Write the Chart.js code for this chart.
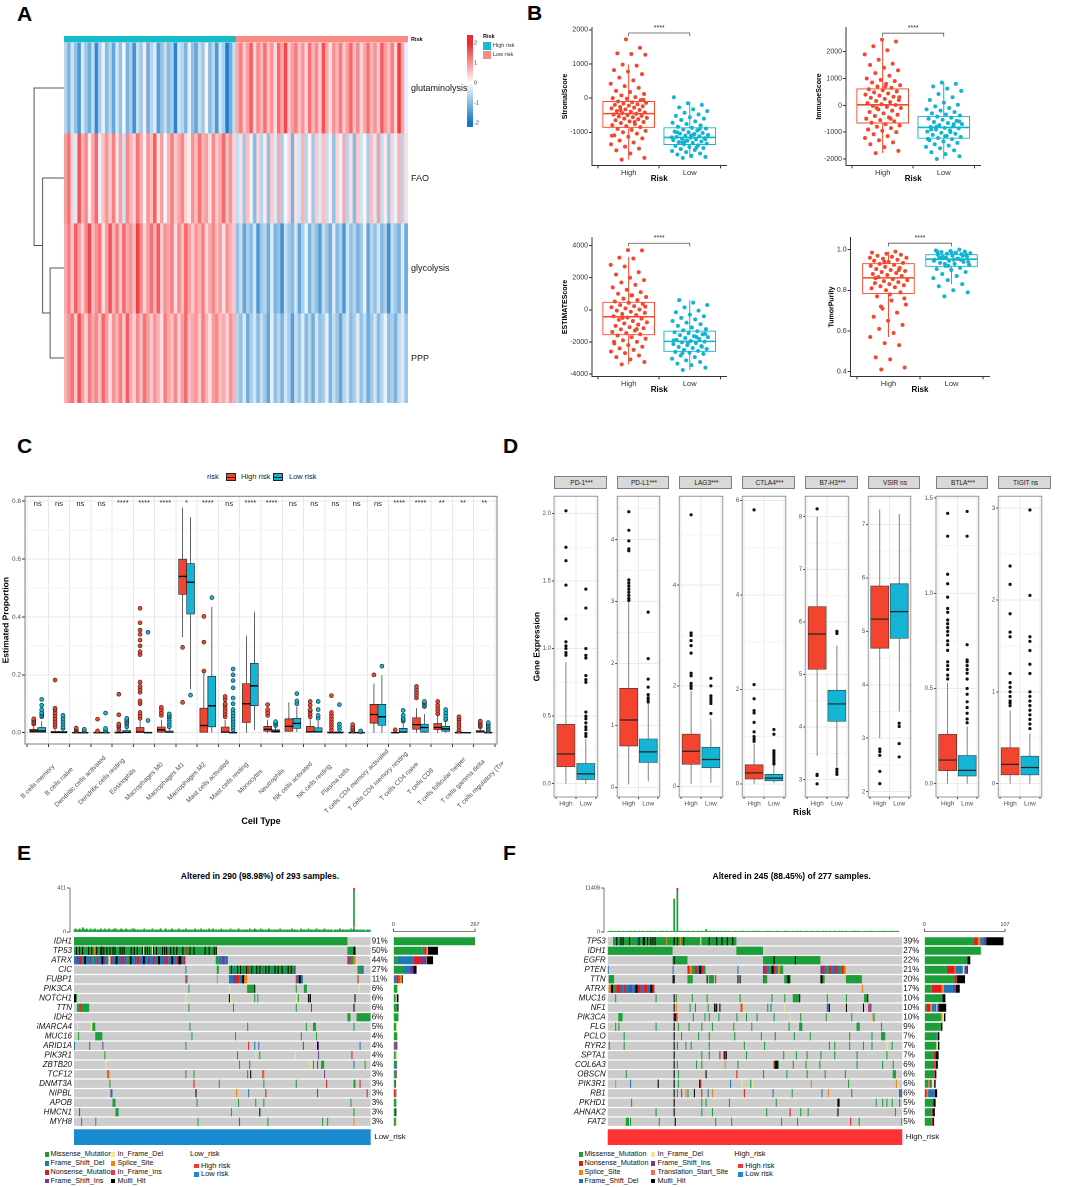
<!DOCTYPE html>
<html>
<head>
<meta charset="utf-8">
<script src="https://cdn.jsdelivr.net/npm/chart.js@4.4.1/dist/chart.umd.min.js"></script>
<style>
body { margin: 0; background: #fff; }
#fig { position: relative; width: 1065px; height: 1187px; overflow: hidden; font-family: "Liberation Sans", Arial, sans-serif; color: #000; }
.t { position: absolute; white-space: nowrap; line-height: 1; }
</style>
</head>
<body>
<div id="fig"></div>
<script>
// ---------------- panel A: heatmap ----------------
const heatRowNames = ['glutaminolysis', 'FAO', 'glycolysis', 'PPP'];
const glutHigh = [-0.6,-1.1,-0.4,-0.9,-1.5,-0.3,-0.8,-1.2,-0.5,-1.7,-0.7,-0.2,-1.0,-0.6,-1.3,-0.4,-0.9,-0.1,-1.1,-0.7,-1.6,-0.5,-0.8,0.2,-1.2,-0.6,-0.3,-1.4,-0.9,-0.5,-1.0,-0.7,-1.8,-0.4,-0.6,-1.1,-0.2,-0.9,-1.3,-0.5,-0.8,0.1,-1.0,-0.6,-1.5,-0.4,-0.7,-1.9,-1.2,-0.5];
const glutLow = [0.8,1.2,0.5,0.9,1.5,0.4,1.1,0.7,1.3,0.6,1.0,0.3,1.4,0.8,1.7,0.5,0.9,1.2,0.6,1.0,0.4,1.3,0.7,1.1,0.5,1.6,0.8,0.3,1.0,0.7,1.2,0.5,0.9,1.4,0.6,1.1,0.4,0.8,1.3,0.7,1.0,0.5,1.5,0.9,0.6,1.2,0.4,1.8,0.8,-0.2];
const faoHigh = [0.9,1.3,0.4,-0.3,1.6,0.7,1.1,0.2,0.8,1.4,-0.2,0.6,1.0,0.5,1.2,0.3,0.9,-0.4,1.1,0.7,0.4,1.3,0.8,0.1,1.0,0.6,1.5,0.3,0.9,-0.1,0.7,1.2,0.5,0.8,1.1,0.4,0.2,1.0,0.6,1.3,0.7,0.9,0.3,1.1,0.5,0.8,1.4,0.6,1.0,0.4];
const faoLow = [-0.5,0.3,-0.8,0.6,-0.2,-1.0,0.4,-0.6,0.2,-0.9,0.5,-0.3,0.8,-0.7,-0.1,0.4,-1.1,0.3,-0.4,0.7,-0.6,0.1,-0.8,0.5,-0.3,0.6,-0.5,0.2,-0.9,0.4,-0.2,0.8,-0.6,0.3,-1.0,0.5,-0.4,0.1,-0.7,0.6,-0.3,0.9,-0.5,0.2,-0.8,0.4,-0.2,0.7,-0.6,0.3];
const glycoHigh = [0.8,1.2,0.5,1.5,0.9,0.4,1.1,1.7,0.6,1.0,1.3,0.3,0.9,1.6,0.7,1.2,0.5,1.4,0.8,1.0,0.6,1.8,1.1,0.4,0.9,1.3,0.7,1.5,0.5,1.0,0.8,1.2,0.3,1.1,0.6,1.4,0.9,0.5,1.0,0.7,1.2,0.4,0.8,1.1,0.6,0.9,0.3,1.0,0.7,0.5];
const glycoLow = [-0.9,-0.5,-1.3,-0.7,-1.0,-0.4,-1.5,-0.8,-0.6,-1.2,-0.3,-1.1,-0.9,-1.6,-0.5,-0.8,-1.0,-0.4,-1.3,-0.7,-0.2,-1.1,-0.6,-0.9,-1.4,-0.5,-0.8,-1.2,-0.3,-1.0,-0.7,-1.5,-0.4,-0.9,-0.6,-1.1,-0.8,-0.2,-1.3,-0.6,-0.9,-0.4,-1.0,-0.7,-1.6,-0.5,-0.8,-1.1,-0.3,-1.2];
const pppHigh = [0.7,1.0,1.3,0.5,1.6,0.9,0.4,1.2,0.8,1.1,0.6,1.4,0.9,0.3,1.0,0.7,1.2,0.5,1.5,0.8,0.4,1.1,0.6,1.3,0.9,0.5,1.0,0.7,0.3,1.2,0.8,0.6,1.1,0.4,0.9,1.4,0.6,0.8,1.0,0.5,1.2,0.7,0.3,0.9,1.1,0.6,0.8,0.4,1.0,0.7];
const pppLow = [-0.6,-0.9,-0.3,-1.2,-0.7,-0.4,-1.0,-0.5,-0.8,-1.3,-0.2,-0.9,-0.6,-1.1,-0.4,-0.7,-1.4,-0.5,-0.8,-0.3,-1.0,-0.6,-1.2,-0.4,-0.9,-0.7,-0.2,-1.1,-0.5,-0.8,-1.3,-0.6,-0.4,-1.0,-0.7,-0.3,-0.9,-0.5,-1.2,-0.8,-0.4,-1.0,-0.6,-0.2,-0.9,-0.7,-1.1,-0.5,-0.3,-0.8];
const dendroMerges = [[2, 3, 1.3], [1, 4, 2.0], [0, 5, 2.8]]; // [nodeA, nodeB, height]
const heatTicks = [-2, -1, 0, 1, 2];
const heatRange = [-2.2, 2.4];

// ---------------- panel B: ESTIMATE ----------------
const riskLabels = ['High', 'Low'];
const stromalHigh = [-1800,-1750,-1620,-1530,-1480,-1420,-1350,-1300,-1240,-1180,-1130,-1090,-1040,-1000,-960,-930,-900,-850,-820,-790,-760,-730,-700,-680,-650,-620,-600,-580,-560,-540,-520,-500,-480,-460,-440,-420,-400,-380,-350,-330,-300,-280,-260,-240,-220,-200,-180,-160,-140,-120,-100,-60,-20,0,30,80,120,180,210,300,350,420,520,600,700,780,820,950,980,1270,1290,1310,1470,1720,-1100,-700,-350,-50];
const stromalLow = [-1750,-1720,-1690,-1650,-1620,-1580,-1550,-1520,-1490,-1460,-1430,-1400,-1380,-1350,-1330,-1310,-1290,-1270,-1250,-1230,-1210,-1190,-1170,-1160,-1140,-1120,-1100,-1080,-1060,-1040,-1020,-1000,-980,-950,-920,-890,-870,-840,-800,-760,-720,-680,-640,-600,-560,-520,-480,-430,-380,-330,-270,-200,-150,24,-1450,-1300,-1200,-1100,-1000,-900,-1250,-1150,-1050];
const immuneHigh = [-1780,-1700,-1560,-1450,-1380,-1300,-1220,-1150,-1080,-1000,-950,-900,-850,-800,-750,-700,-650,-600,-550,-500,-450,-400,-350,-300,-250,-200,-150,-100,-60,-20,10,40,80,120,160,200,240,280,320,360,400,440,480,520,560,600,650,700,750,800,850,900,950,1000,1100,1200,1300,1400,1500,1550,1700,1900,2050,2200,2380,2450,-900,-500,-100,300,700];
const immuneLow = [-2000,-1900,-1820,-1750,-1680,-1600,-1550,-1500,-1450,-1400,-1350,-1300,-1260,-1220,-1180,-1140,-1100,-1060,-1020,-980,-940,-900,-860,-840,-810,-780,-740,-700,-660,-620,-580,-540,-500,-460,-420,-380,-340,-300,-250,-200,-150,-100,-40,20,100,200,300,420,540,620,700,800,850,-1250,-1000,-800,-600,-1150,-900,-700];
const estimateHigh = [-3400,-3250,-3100,-2950,-2850,-2700,-2600,-2500,-2400,-2300,-2200,-2100,-2000,-1900,-1800,-1700,-1600,-1520,-1450,-1380,-1300,-1220,-1150,-1080,-1000,-920,-850,-780,-700,-620,-550,-480,-400,-330,-260,-190,-120,-50,20,90,160,230,300,370,430,520,600,700,800,900,1000,1100,1250,1400,1550,1700,1850,2000,2200,2350,2700,2800,3200,3250,3700,3720,-2000,-1200,-500,200,900];
const estimateLow = [-3750,-3600,-3450,-3350,-3250,-3150,-3050,-2950,-2850,-2750,-2680,-2620,-2560,-2500,-2440,-2380,-2320,-2260,-2200,-2140,-2080,-2020,-1980,-1940,-1880,-1820,-1760,-1700,-1640,-1580,-1520,-1460,-1400,-1340,-1280,-1200,-1100,-1000,-900,-800,-700,-600,-500,-400,-300,-150,-50,150,300,450,600,-2300,-2100,-1900,-1700,-2700,-1500];
const purityHigh = [0.41,0.42,0.46,0.47,0.53,0.54,0.57,0.59,0.61,0.63,0.65,0.67,0.69,0.71,0.73,0.75,0.77,0.79,0.80,0.81,0.815,0.82,0.825,0.83,0.835,0.84,0.845,0.85,0.855,0.865,0.87,0.875,0.88,0.885,0.89,0.895,0.90,0.905,0.91,0.915,0.92,0.925,0.93,0.935,0.94,0.945,0.95,0.955,0.96,0.965,0.97,0.975,0.98,0.985,0.99,0.72,0.76,0.78,0.86,0.9,0.94,0.96];
const purityLow = [0.77,0.79,0.80,0.82,0.83,0.85,0.86,0.87,0.88,0.89,0.90,0.905,0.91,0.92,0.925,0.93,0.935,0.94,0.945,0.95,0.955,0.96,0.965,0.97,0.975,0.978,0.98,0.982,0.985,0.988,0.99,0.993,0.996,1.0,0.93,0.94,0.95,0.96,0.97,0.92,0.945,0.955,0.965,0.975,0.985,0.99,0.95,0.96];
// box stats: [lower whisker, q1, median, q3, upper whisker] for High, Low
const stromalBox = [[-1800,-863,-455,-94,988], [-1750,-1365,-1153,-863,-110]];
const immuneBox = [[-1780,-667,20,617,2450], [-2000,-1234,-826,-408,850]];
const estimateBox = [[-3400,-1567,-433,483,3300], [-3750,-2600,-1967,-1317,600]];
const purityBox = [[0.57,0.783,0.861,0.932,0.99], [0.83,0.917,0.953,0.976,1.0]];
const stromalTicks = [-1000, 0, 1000, 2000];
const immuneTicks = [-2000, -1000, 0, 1000, 2000];
const estimateTicks = [-4000, -2000, 0, 2000, 4000];
const purityTicks = [0.4, 0.6, 0.8, 1.0];
// significance bracket: [bar level, tick end]
const stromalBracket = [1906, 1812];
const immuneBracket = [2687, 2560];
const estimateBracket = [4150, 3950];
const purityBracket = [1.0316, 1.016];

// ---------------- panel C: CIBERSORT ----------------
const cellTypes = ['B cells memory','B cells naive','Dendritic cells activated','Dendritic cells resting','Eosinophils','Macrophages M0','Macrophages M1','Macrophages M2','Mast cells activated','Mast cells resting','Monocytes','Neutrophils','NK cells activated','NK cells resting','Plasma cells','T cells CD4 memory activated','T cells CD4 memory resting','T cells CD4 naive','T cells CD8','T cells follicular helper','T cells gamma delta','T cells regulatory (Tregs)'];
const cSig = ['ns','ns','ns','ns','****','****','****','*','****','ns','****','****','ns','ns','ns','ns','ns','****','****','**','**','**'];
const cHigh = [[0,0.002,0.006,0.012,0.025],[0,0,0.001,0.005,0.012],[0,0,0,0.002,0.004],[0,0,0,0.002,0.004],[0,0,0,0.003,0.007],[0,0,0.002,0.018,0.042],[0,0.002,0.01,0.02,0.045],[0.33,0.478,0.54,0.60,0.778],[0,0,0.025,0.085,0.205],[0,0,0.002,0.02,0.045],[0,0.035,0.1,0.17,0.335],[0,0.005,0.012,0.022,0.045],[0.003,0.005,0.022,0.048,0.105],[0,0,0.003,0.022,0.05],[0,0,0,0.003,0.007],[0,0,0,0.002,0.004],[0,0.033,0.063,0.098,0.17],[0,0,0,0.002,0.004],[0,0.012,0.028,0.052,0.085],[0,0.01,0.018,0.032,0.06],[0,0,0,0.002,0.004],[0,0,0.003,0.008,0.015]];
const cLow = [[0,0.002,0.006,0.018,0.04],[0,0,0.001,0.005,0.012],[0,0,0,0.001,0.003],[0,0,0,0.002,0.004],[0,0,0.001,0.008,0.018],[0,0,0,0.002,0.004],[0,0,0.002,0.006,0.015],[0.15,0.41,0.52,0.585,0.745],[0,0.02,0.093,0.195,0.435],[0,0,0,0.002,0.005],[0.01,0.093,0.162,0.24,0.418],[0,0.002,0.005,0.01,0.02],[0.003,0.015,0.032,0.05,0.09],[0,0,0.003,0.017,0.04],[0,0,0,0.003,0.007],[0,0,0,0.001,0.002],[0,0.025,0.055,0.098,0.198],[0,0,0.002,0.015,0.035],[0,0.002,0.018,0.03,0.065],[0,0.005,0.013,0.022,0.04],[0,0,0,0.001,0.002],[0,0,0,0.002,0.005]];
const cOutHigh = [[0.03,0.035,0.04,0.045,0.048],[0.02,0.03,0.04,0.05,0.06,0.07,0.08,0.085,0.182],[0.006,0.01,0.013,0.016],[0.006,0.047],[0.01,0.02,0.025,0.03,0.062,0.133],[0.05,0.06,0.07,0.1,0.11,0.14,0.15,0.16,0.175,0.27,0.28,0.3,0.32,0.34,0.355,0.38,0.43],[0.06,0.07,0.08,0.088],[0.105,0.295],[0.213,0.313,0.402],[0.055,0.065,0.075,0.085,0.095,0.1,0.115,0.125],[],[0.06,0.07,0.08,0.097],[],[0.055,0.065,0.075,0.08,0.095,0.108],[0.01,0.02,0.03,0.04,0.05,0.06,0.07,0.128],[0.006,0.01,0.015,0.02,0.028],[0.2],[0.01],[0.12,0.13,0.14,0.15,0.16],[0.065,0.075,0.085,0.095,0.108],[0.005,0.01,0.02,0.03,0.04,0.048,0.055],[0.02,0.025,0.03,0.035,0.04]];
const cOutLow = [[0.055,0.06,0.065,0.07,0.08,0.095,0.115],[0.015,0.02,0.03,0.04,0.05,0.06],[0.005,0.008,0.012],[0.006,0.01,0.015,0.068],[0.02,0.03,0.035,0.04,0.045,0.05],[0.042,0.347],[0.02,0.03,0.04,0.05,0.055,0.06,0.065],[0.13],[0.467],[0.01,0.02,0.03,0.04,0.05,0.06,0.07,0.08,0.1,0.12,0.155,0.18,0.2,0.22],[],[0.025,0.03,0.035,0.038],[0.1,0.11,0.135],[0.05,0.06,0.08,0.108],[0.01,0.02,0.03,0.097],[0.003,0.006],[0.23],[0.04,0.045,0.05,0.06,0.077],[0.09,0.095,0.1,0.105,0.108],[0.045,0.05,0.06,0.07,0.08],[],[0.006,0.01,0.015,0.02,0.025,0.03,0.035]];
const cTicks = [0, 0.2, 0.4, 0.6, 0.8];

// ---------------- panel D: checkpoints ----------------
const dGenes = ['PD-1***','PD-L1***','LAG3***','CTLA4***','B7-H3***','VSIR ns','BTLA***','TIGIT ns'];
const dRange = [[-0.099,2.128],[-0.152,4.70],[-0.21,5.77],[-0.28,6.09],[2.67,8.39],[1.90,7.53],[-0.07,1.51],[-0.145,3.13]];
const dTicks = [[0,0.5,1,1.5,2],[0,1,2,3,4],[0,2,4],[0,2,4,6],[3,4,5,6,7,8],[2,3,4,5,6,7],[0,0.5,1,1.5],[0,1,2,3]];
const dHigh = [[0,0.125,0.22,0.44,0.9],[0.05,0.67,1.09,1.6,3.0],[0.05,0.44,0.70,1.04,1.9],[0,0.10,0.23,0.40,0.85],[3.45,5.10,5.77,6.29,8.0],[3.0,4.685,5.23,5.85,7.28],[0,0.068,0.124,0.26,0.53],[0,0.095,0.21,0.39,0.8]];
const dLow = [[0,0.03,0.072,0.149,0.33],[0.1,0.403,0.576,0.785,1.35],[0.07,0.37,0.535,0.78,1.35],[0.02,0.06,0.12,0.2,0.4],[3.25,4.11,4.44,4.70,5.55],[3.5,4.87,5.37,5.89,7.2],[0,0.04,0.07,0.148,0.3],[0,0.095,0.176,0.30,0.55]];
const dOutHigh = [[0.95,0.97,1.0,1.02,1.05,1.22,1.47,1.65,1.75,2.02],[3.02,3.05,3.1,3.15,3.2,3.25,3.3,3.35,3.82,3.85,3.98,4.15,4.45],[1.95,2.0,2.05,2.2,2.25,2.65,2.8,2.9,3.0,3.05,5.4],[0.9,0.95,1.0,1.1,1.3,1.5,1.55,1.8,2.1,5.8],[2.92,3.08,3.1,8.15],[2.15,2.38,2.68,2.75,2.8],[0.55,0.57,0.6,0.62,0.64,0.7,0.73,0.75,0.78,0.8,0.82,0.84,0.86,0.9,0.92,0.98,1.05,1.1,1.3,1.42],[0.85,0.88,0.9,0.95,1.0,1.05,1.1,1.2,1.6,1.65,1.85,2.17,2.37]];
const dOutLow = [[0.35,0.37,0.4,0.42,0.45,0.48,0.5,0.53,0.75,0.77,0.8,0.93,0.95,1.0,1.3,1.44],[1.38,1.42,1.45,1.5,1.62,1.75,2.08,2.83],[1.45,1.65,1.7,1.75,1.8,2.0,2.15],[0.42,0.45,0.5,0.55,0.6,0.65,0.7,1.05,1.15],[3.1,3.15,3.2,5.78,5.82],[2.65,2.9,3.22,3.28],[0.32,0.34,0.37,0.4,0.43,0.47,0.5,0.55,0.58,0.6,0.62,0.64,0.65,0.73,1.3,1.43],[0.6,0.65,0.7,0.75,0.8,0.85,0.9,0.95,1.0,1.2,1.3,1.45,1.55,1.6,2.05,2.98]];

// ---------------- panels E/F: oncoplots ----------------
const eGenes = ['IDH1','TP53','ATRX','CIC','FUBP1','PIK3CA','NOTCH1','TTN','IDH2','SMARCA4','MUC16','ARID1A','PIK3R1','ZBTB20','TCF12','DNMT3A','NIPBL','APOB','HMCN1','MYH8'];
const ePct = ['91%','50%','44%','27%','11%','6%','6%','6%','6%','5%','4%','4%','4%','4%','3%','3%','3%','3%','3%','3%'];
const eRuns = [
  '0-270M',
  '0-141M 2K 5K 8K 14K 17K 20S 22K 26K 27K 29K 32K 35K 38K 40K 45K 47K 49K 56K 59K 62K 67K 68E 70K 72K 74K 77E 78K 81K 87K 89K 91K 95K 98K 101K 107K 111N 114K 118K 129K 133K 138K 140K 270-276M 276-278K',
  '0-3D 3-5I 5-8N 8-10D 10-12K 12-15D 15-17I 17-19M 19-22D 22-24N 24-27D 27-29K 29-31I 31-34D 34-36E 36-38N 38-41D 41-43K 43-46D 46-48I 48-50N 50-53D 53-55M 55-57K 57-60D 60-62I 62-65N 65-68D 68-70K 70-73D 73-75I 75-78D 78-80N 80-83D 83-85K 85-88D 88-90I 90-93N 93-96D 96-98K 98-101D 101-103N 103-106K 106-108D 108-110N 140-143M 143-146D 146-149I 149-152D 270-272N 272-274D 274-276M 276-278S',
  '110D 141-143M 153-219M 155K 158D 161K 164K 167I 170K 172N 175K 177D 180K 183K 186I 189K 192K 195D 198K 201K 205K 208D 211K 214K 217I 280-284M 284D 285I',
  '110D 111N 141S 153-157D 157-160I 160-163N 163-166D 166-168K 168-171S 219N 220-222D 222-224K 224-226D 280N',
  '113M 153E 171-178M 178K 219M 227-230M 281E',
  '0-2K 2-3M 110E 153K 154E 178M 181M 219E 221M 231K 232D 233K 277K',
  '3-6M 6N 7-15M 113M 157M 219M 234N 276K',
  '270-273M 279-293M',
  '3E 16E 17E 18-21M 114M 171M 229M 236-239M 276M',
  '4M 21-28M 116M 159M 224M 239M',
  '0D 15D 28I 110M 172N 178D 182D 226N 240K 241I 282D',
  '30M 161D 179E 183M 218E 241I 274N',
  '31E 163M 173M 233E 236M 240I 244-247M 276D 287M',
  '33N 34S 110D 118M 171D 174K 186N 187S 247I',
  '35M 118N 143M 187M 219M 249N 276-278M 282N',
  '36I 37D 120K 160S 172D 189N 240N 289N',
  '38-41M 121M 162M 179M 187M 273M',
  '5N 41-44M 155M 183K 276M',
  '7M 21M 122M 163N 191M 245M 250M 276S'
];
const eCounts = {
  M: [267,96,13,35,0,13,6,12,17,9,13,0,5,9,4,5,0,10,6,7],
  D: [0,5,52,17,10,0,2,0,0,0,0,4,1,1,1,0,2,0,0,0],
  N: [0,7,24,0,8,0,0,2,0,0,0,4,1,0,3,4,4,0,1,1],
  I: [0,0,18,13,3,0,0,0,0,0,0,4,1,2,2,0,2,0,0,0],
  E: [0,0,0,0,0,4,3,0,0,5,0,0,3,2,0,0,0,0,0,0],
  S: [0,5,2,0,6,0,0,0,0,0,0,0,0,0,1,0,1,0,0,2],
  F: [0,0,0,0,1,0,0,0,0,0,0,0,1,0,0,0,0,0,0,0],
  K: [0,33,21,11,3,0,6,3,0,0,0,1,0,0,1,0,1,0,3,0]
};
const eTmb = '2321232143223212312232122232123122321223231212322123212213232122122123121221231212212321123212123221212312122132122121231221231221212312231221212312122121312212123212122122131212322121312212123212122122131212122121231221211231221213122121231221212312121221122121321221212213121212212121211212121112';
const eTmbSpikes = [[276,'D',30],[276,'S',20],[276,'M',340],[276,'N',21]];

const fGenes = ['TP53','IDH1','EGFR','PTEN','TTN','ATRX','MUC16','NF1','PIK3CA','FLG','PCLO','RYR2','SPTA1','COL6A3','OBSCN','PIK3R1','RB1','PKHD1','AHNAK2','FAT2'];
const fPct = ['39%','27%','22%','21%','20%','17%','10%','10%','10%','9%','7%','7%','7%','6%','6%','6%','6%','5%','5%','5%'];
const fRuns = [
  '5-121M 8K 12K 14K 20K 27D 29K 33K 34K 37K 40K 42K 44K 55S 62K 65K 68S 71K 87E 95K 99D 102K 107K 112K 117K',
  '0-61M 121-146M',
  '61-75M 62K 146-200M 156K 176K',
  '0D 61D 75-77N 77-79S 79-82M 82-84N 84-86D 86-88K 88-90N 90-92M 122D 146-148I 148-150N 150-152D 152-154M 154-156K 156-158N 158-160D 160-162S 162-165M 200-202I 202-204N 204-206D 206-208M 208-210N 210-212D 212-214I 214-216N 216-218D 218-220M 220-222N 222-224S',
  '1-6M 61K 62K 75-80M 93K 95-100M 101N 122K 124K 146N 147-150M 166-169M 169-171K 171-172M 200-202K 202-204M 224-239M',
  '1-3S 3-5K 5-8M 8-12N 12-15D 15-17N 17-20D 20-23I 23-26D 26-28K 28-31N 31-34D 34-37N 37-40D 40-42K 42-44N 239S',
  '7M 45M 62K 64M 79M 93M 124M 154M 166M 174-180M 180K 206M 224M 241-244M 244K',
  '62K 64S 77M 82D 94M 100K 101N 102K 105K 125N 126S 150M 153D 166E 206N 207D 208K 224K 240K 245N 246D 247I',
  '10-14M 62K 63K 64N 65S 80M 91M 95M 104M 121M 130M 140M 156M 171E 181M 205M 229M 249S 250M',
  '7M 10M 45M 62K 66M 76M 88M 98M 118M 135M 170M 180-183M 234-237M 257M',
  '15M 62K 69M 85M 95M 119M 144M 157D 175M 190M 227M 248M 257-261M',
  '1M 15M 62K 65M 73M 78M 95M 128M 147M 208M 213M 227M 240M 248M 262E 267M',
  '62K 88M 95M 105N 109K 110N 111K 130M 165M 177M 187M 200M 213M 234M 262M',
  '62K 65M 83M 88M 110S 122M 156N 157-160K 160M 174M 186M 199M 234M 258M 268M',
  '17M 62K 66M 92K 121N 146M 168M 187M 204M 223M 268-271M',
  '7S 21D 47K 62K 66M 86K 87N 115D 126E 134M 136E 191S 226M 271S 272E',
  '62K 65M 69N 73S 75M 81K 88N 94D 98S 128N 155D 173M 201D 207S 229D 274I 275D 276N',
  '22M 62K 88M 92M 114M 158M 216K 217K 252M 258M 262M 267M 274M',
  '45M 62K 88M 98M 149M 171N 181M 188M 216K 270M',
  '17-20M 21M 48M 63K 101M 116M 163M 178M 228N 236M 276M'
];
const fCounts = {
  M: [66,75,57,30,40,10,24,3,22,22,16,16,12,12,13,5,0,12,10,10],
  N: [5,0,0,10,3,13,0,5,0,0,0,0,3,2,1,0,3,0,1,1],
  S: [3,0,0,1,0,3,0,2,2,0,0,0,0,0,0,2,2,0,0,0],
  D: [4,0,0,10,0,12,0,6,0,0,2,0,0,0,0,3,8,0,0,0],
  E: [0,0,0,2,0,0,0,1,2,0,0,2,0,0,0,3,0,0,0,0],
  I: [4,0,0,4,0,4,0,2,0,0,0,0,0,0,0,0,1,0,0,0],
  T: [0,0,0,0,0,0,0,0,0,0,0,0,0,1,0,0,0,0,0,0],
  K: [23,0,4,1,11,5,4,10,2,2,2,2,4,3,2,2,3,3,3,2]
};
const fTmb = '1121211211211121112112111211121112111211211121111212111211121112111212111211211121111211211121112112111211211121121111112111121211112111211211211111121121111112111111211211112111211211112111121111121111211211121112111211211121111211211211111121112121111121121121111211211121';
const fTmbSpikes = [[62,'M',8300],[62,'N',250],[65,'M',10800],[65,'N',608],[92,'M',650]];

// ---------------- setup ----------------
const FONT = '"Liberation Sans", Arial, sans-serif';
Chart.defaults.font.family = FONT;
Chart.defaults.color = '#4d4d4d';
Chart.defaults.animation = false;
Chart.defaults.responsive = false;
Chart.defaults.events = [];
Chart.defaults.plugins.legend.display = false;
Chart.defaults.plugins.tooltip.enabled = false;

const fig = document.getElementById('fig');
const RED = '#F3442F', BLUE = '#14B4D4';
const RED_B = '#F4472C', BLUE_B = '#11B5D1';
const mutColors = {M: '#1E9E3A', D: '#1F78B4', N: '#E31A1C', I: '#6A3D9A', E: '#EFEA8C', S: '#FF7F00', F: '#E8384F', T: '#F46D43', K: '#000000'};
const mutNames = {M: 'Missense_Mutation', D: 'Frame_Shift_Del', N: 'Nonsense_Mutation', I: 'Frame_Shift_Ins', E: 'In_Frame_Del', S: 'Splice_Site', F: 'In_Frame_Ins', T: 'Translation_Start_Site', K: 'Multi_Hit'};

// text drawn at data coordinates
Chart.register({
  id: 'marks',
  defaults: {items: []},
  afterDatasetsDraw(chart, args, opts) {
    const {ctx, scales} = chart;
    (opts.items || []).forEach(t => {
      ctx.save();
      ctx.font = t.font || `7px ${FONT}`;
      ctx.fillStyle = t.color || '#1a1a1a';
      ctx.textAlign = 'center';
      ctx.textBaseline = 'middle';
      ctx.fillText(t.text, scales.x.getPixelForValue(t.x), scales.y.getPixelForValue(t.y) + (t.dy || 0));
      ctx.restore();
    });
  }
});
// x labels rotated 45 degrees and centred on their tick (ggplot hjust = 0.5)
Chart.register({
  id: 'rotLabels',
  defaults: {labels: null},
  afterDraw(chart, args, o) {
    if (!o.labels) return;
    const {ctx, scales: {x}, chartArea: a} = chart;
    ctx.save();
    ctx.font = o.font;
    ctx.fillStyle = o.color;
    ctx.textAlign = 'center';
    ctx.textBaseline = 'middle';
    o.labels.forEach((t, i) => {
      ctx.save();
      ctx.translate(x.getPixelForValue(o.at[i]), a.bottom + o.dy);
      ctx.rotate(-Math.PI / 4);
      ctx.fillText(t, 0, 0);
      ctx.restore();
    });
    ctx.restore();
  }
});
// panel border (theme_bw)
Chart.register({
  id: 'frame',
  defaults: {color: null},
  afterDraw(chart, args, opts) {
    if (!opts.color) return;
    const {ctx, chartArea: a} = chart;
    ctx.save();
    ctx.strokeStyle = opts.color;
    ctx.lineWidth = opts.width || 1;
    ctx.strokeRect(a.left, a.top, a.right - a.left, a.bottom - a.top);
    ctx.restore();
  }
});

function label(str, x, y, css, anchor) {
  const d = document.createElement('div');
  d.className = 't';
  d.textContent = str;
  const tx = anchor === 'c' ? '-50%' : anchor === 'r' ? '-100%' : '0';
  d.style.cssText = `left:${x}px;top:${y}px;transform:translate(${tx},-50%);${css || ''}`;
  fig.appendChild(d);
  return d;
}

function rect(x, y, w, h, css) {
  const d = document.createElement('div');
  d.style.cssText = `position:absolute;left:${x}px;top:${y}px;width:${w}px;height:${h}px;box-sizing:border-box;${css}`;
  fig.appendChild(d);
  return d;
}

// canvas placed so that the plot area lands on plot = [x0, y0, x1, y1]
function chartAt(plot, m, config) {
  const yW = m.yW || 0, y2W = m.y2W || 0, xH = m.xH || 0, xTH = m.xTH || 0;
  const L = Math.floor(plot[0] - yW - (m.l || 0));
  const T = Math.floor(plot[1] - xTH - (m.t || 0));
  const R = Math.ceil(plot[2] + y2W + (m.r || 0));
  const B = Math.ceil(plot[3] + xH + (m.b || 0));
  const c = document.createElement('canvas');
  c.width = R - L;
  c.height = B - T;
  c.style.cssText = `position:absolute;left:${L}px;top:${T}px;width:${R - L}px;height:${B - T}px;`;
  fig.appendChild(c);
  config.options = Object.assign({}, config.options, {
    devicePixelRatio: 2,
    layout: {padding: {left: plot[0] - yW - L, top: plot[1] - xTH - T, right: R - plot[2] - y2W, bottom: B - plot[3] - xH}}
  });
  return new Chart(c, config);
}

function minorsOf(ticks, min, max) {
  const step = ticks[1] - ticks[0];
  const out = [];
  for (let v = ticks[0] - step / 2; v <= ticks[ticks.length - 1] + step / 2 + 1e-9; v += step) {
    if (v > min && v < max) out.push(+v.toFixed(6));
  }
  return out;
}

function axis(dir, o) {
  const minors = o.minor || [];
  const all = o.ticks.concat(minors).sort((a, b) => a - b);
  const isMinor = v => minors.some(m => Math.abs(m - v) < 1e-9);
  const s = {
    type: 'linear', axis: dir, position: o.pos || (dir === 'y' ? 'left' : 'bottom'),
    min: o.min, max: o.max, reverse: !!o.reverse, offset: false, stacked: !!o.stacked,
    afterBuildTicks: sc => { sc.ticks = all.map(v => ({value: v})); },
    ticks: {
      display: o.noLabels ? false : true,
      autoSkip: false, font: o.font || {size: 7}, color: o.color || '#4d4d4d', padding: o.pad ?? 2,
      minRotation: 0, maxRotation: 0,
      callback: v => isMinor(v) ? '' : (o.fmt ? o.fmt(v) : v)
    },
    grid: Object.assign({drawOnChartArea: false, drawTicks: true, tickLength: 3, tickColor: '#333', tickWidth: 1}, o.grid || {}),
    border: Object.assign({display: true, color: '#333', width: 1}, o.border || {}),
    title: o.title ? Object.assign({display: true}, o.title) : {display: false}
  };
  if (minors.length) {
    const majC = s.grid.color || '#E6E6E6', minC = o.minorColor || '#F4F4F4', tickC = s.grid.tickColor;
    s.grid.color = c => (c.tick && isMinor(c.tick.value)) ? minC : majC;
    s.grid.tickColor = c => (c.tick && isMinor(c.tick.value)) ? 'rgba(0,0,0,0)' : tickC;
  }
  if (dir === 'y') s.afterFit = sc => { sc.width = o.size; sc.paddingTop = 0; sc.paddingBottom = 0; };
  else s.afterFit = sc => { sc.height = o.size; sc.paddingLeft = 0; sc.paddingRight = 0; };
  return s;
}

const jit = i => ((i * 0.6180339887 + 0.31) % 1) * 2 - 1;

// boxplot for one colour group
function boxSet(stats, xs, st) {
  const whisk = [];
  stats.forEach((s, i) => {
    whisk.push({x: xs[i], y: s[0]}, {x: xs[i], y: s[1]}, {x: xs[i], y: null},
               {x: xs[i], y: s[3]}, {x: xs[i], y: s[4]}, {x: xs[i], y: null});
  });
  return [
    {type: 'bar', data: stats.map((s, i) => ({x: xs[i], y: [s[1], s[3]]})), backgroundColor: st.fill,
     borderColor: st.stroke, borderWidth: st.lw, borderSkipped: false, barThickness: st.px, grouped: false, order: 2},
    {type: 'scatter', data: whisk, showLine: true, spanGaps: false, borderColor: st.wColor || st.stroke,
     borderWidth: st.lw, pointRadius: 0, order: 3},
    {type: 'scatter', data: stats.map((s, i) => ({x: xs[i], y: s[2]})), pointStyle: 'line', pointRadius: st.px / 2,
     pointBorderColor: st.mColor, pointBorderWidth: st.mlw, order: 1}
  ];
}

// ---------------- A ----------------
label('A', 17, 12.5, 'font-size:21px;font-weight:bold;');
(function () {
  const rows = [glutHigh.concat(glutLow), faoHigh.concat(faoLow), glycoHigh.concat(glycoLow), pppHigh.concat(pppLow)];
  const nCol = rows[0].length;
  const nHigh = glutHigh.length;
  const heatColor = v => {
    const t = Math.min(Math.abs(v) / 2, 1);
    const c = v < 0 ? [16, 118, 198] : [240, 40, 46];
    return `rgb(${Math.round(255 + (c[0] - 255) * t)},${Math.round(255 + (c[1] - 255) * t)},${Math.round(255 + (c[2] - 255) * t)})`;
  };
  const ds = rows.map((vals, r) => ({
    type: 'bar', data: vals.map((v, c) => ({x: c + 0.5, y: [3 - r, 4 - r]})),
    backgroundColor: vals.map(heatColor), barPercentage: 1, categoryPercentage: 1, grouped: false, borderWidth: 0
  }));
  ds.push({type: 'bar', data: rows[0].map((v, c) => ({x: c + 0.5, y: [4.011, 4.078]})),
    backgroundColor: rows[0].map((v, c) => c < nHigh ? '#14BDC9' : '#FA8A84'),
    barPercentage: 1, categoryPercentage: 1, grouped: false, borderWidth: 0});
  chartAt([64, 36, 408, 403], {}, {
    type: 'bar', data: {datasets: ds},
    options: {scales: {x: {type: 'linear', display: false, min: 0, max: nCol, offset: false},
                       y: {type: 'linear', display: false, min: 0, max: 4.078}}}
  });

  // dendrogram
  const nodes = heatRowNames.map((n, i) => ({y: 3.5 - i, h: 0}));
  const pts = [];
  dendroMerges.forEach(([a, b, h]) => {
    const A = nodes[a], B = nodes[b];
    pts.push({x: A.h, y: A.y}, {x: h, y: A.y}, {x: h, y: B.y}, {x: B.h, y: B.y}, {x: 0, y: null});
    nodes.push({y: (A.y + B.y) / 2, h});
  });
  chartAt([33, 43, 64, 403], {l: 2, r: 0}, {
    type: 'scatter',
    data: {datasets: [{data: pts, showLine: true, spanGaps: false, borderColor: '#555', borderWidth: 1, pointRadius: 0}]},
    options: {scales: {x: {type: 'linear', display: false, min: 0, max: 2.9, reverse: true},
                       y: {type: 'linear', display: false, min: 0, max: 4}}}
  });

  // colour key
  chartAt([467, 35, 473, 127], {y2W: 12, t: 3, b: 3}, {
    type: 'bar',
    data: {datasets: [{data: [{x: 0.5, y: heatRange}], barThickness: 6, borderWidth: 0,
      backgroundColor: c => {
        const a = c.chart.chartArea;
        if (!a) return '#fff';
        const y = c.chart.scales.y;
        const g = c.chart.ctx.createLinearGradient(0, y.getPixelForValue(-2), 0, y.getPixelForValue(2));
        g.addColorStop(0, 'rgb(16,118,198)');
        g.addColorStop(0.5, '#ffffff');
        g.addColorStop(1, 'rgb(240,40,46)');
        return g;
      }}]},
    options: {scales: {
      x: {type: 'linear', display: false, min: 0, max: 1, offset: false},
      y: axis('y', {min: heatRange[0], max: heatRange[1], ticks: heatTicks, size: 12, pos: 'right', font: {size: 5.5},
        color: '#333', pad: 1, grid: {drawTicks: false}, border: {display: false}})
    }}
  });

  heatRowNames.forEach((n, i) => label(n, 411, 88 + i * 90, 'font-size:9px;color:#111;'));
  label('Risk', 411, 39.5, 'font-size:5.5px;font-weight:bold;');
  label('Risk', 483, 37, 'font-size:5.5px;font-weight:bold;');
  rect(483, 42, 8, 8, 'background:#14BDC9;');
  rect(483, 51, 8, 8, 'background:#FA8A84;');
  label('High risk', 493, 46, 'font-size:5.5px;color:#333;');
  label('Low risk', 493, 55, 'font-size:5.5px;color:#333;');
})();

// ---------------- B ----------------
label('B', 527, 12, 'font-size:21px;font-weight:bold;');
[
  {plot: [592, 3, 750, 175], yW: 33, range: [-1970, 2063], ticks: stromalTicks, title: 'StromalScore', vals: [stromalHigh, stromalLow], box: stromalBox, br: stromalBracket, fmt: v => v},
  {plot: [846, 3, 1004, 175], yW: 33, range: [-2239, 2896], ticks: immuneTicks, title: 'ImmuneScore', vals: [immuneHigh, immuneLow], box: immuneBox, br: immuneBracket, fmt: v => v},
  {plot: [592, 213, 750, 386], yW: 33, range: [-4150, 4500], ticks: estimateTicks, title: 'ESTIMATEScore', vals: [estimateHigh, estimateLow], box: estimateBox, br: estimateBracket, fmt: v => v},
  {plot: [848, 213, 1013, 386], yW: 25, range: [0.3763, 1.0592], ticks: purityTicks, title: 'TumorPurity', vals: [purityHigh, purityLow], box: purityBox, br: purityBracket, fmt: v => v.toFixed(1)}
].forEach(p => {
  const cols = [RED_B, BLUE_B];
  const ds = [];
  p.box.forEach((s, g) => ds.push(...boxSet([s], [g + 1], {fill: '#fff', stroke: cols[g], lw: 1, px: 52, mColor: cols[g], mlw: 1.6})));
  p.vals.forEach((vals, g) => ds.push({type: 'scatter', order: 0,
    data: vals.map((v, i) => ({x: g + 1 + jit(i) * 0.3, y: v})),
    pointRadius: 2, pointBackgroundColor: cols[g], pointBorderWidth: 0}));
  ds.push({type: 'scatter', showLine: true, borderColor: '#555', borderWidth: 0.8, pointRadius: 0, order: 0,
    data: [{x: 1, y: p.br[1]}, {x: 1, y: p.br[0]}, {x: 2, y: p.br[0]}, {x: 2, y: p.br[1]}]});
  chartAt(p.plot, {yW: p.yW, xH: 18, t: 3, r: 4}, {
    type: 'bar', data: {datasets: ds},
    options: {
      scales: {
        x: axis('x', {min: 0.4, max: 2.6, ticks: [1, 2], size: 18, font: {size: 7.5}, color: '#333', pad: 0,
          fmt: v => riskLabels[v - 1], title: {text: 'Risk', font: {size: 8, weight: 'bold'}, color: '#000', padding: {top: 0, bottom: 0}}}),
        y: axis('y', {min: p.range[0], max: p.range[1], ticks: p.ticks, size: p.yW, font: {size: 7}, color: '#333', pad: 1,
          fmt: p.fmt, title: {text: p.title, font: {size: 7, weight: 'bold'}, color: '#000', padding: {top: 2, bottom: 0}}})
      },
      plugins: {marks: {items: [{x: 1.5, y: p.br[0], text: '****', dy: -5, font: `7px ${FONT}`}]}}
    }
  });
});

// ---------------- C ----------------
label('C', 17, 445, 'font-size:21px;font-weight:bold;');
(function () {
  const ds = [];
  const xsH = cellTypes.map((c, i) => i + 1 - 0.1875);
  const xsL = cellTypes.map((c, i) => i + 1 + 0.1875);
  ds.push(...boxSet(cHigh, xsH, {fill: RED, stroke: '#222', lw: 0.7, px: 8, mColor: '#000', mlw: 1.3}));
  ds.push(...boxSet(cLow, xsL, {fill: BLUE, stroke: '#222', lw: 0.7, px: 8, mColor: '#000', mlw: 1.3}));
  [[cOutHigh, xsH, RED], [cOutLow, xsL, BLUE]].forEach(([outs, xs, col]) => {
    const data = [];
    outs.forEach((o, i) => o.forEach(v => data.push({x: xs[i], y: v})));
    ds.push({type: 'scatter', data, pointRadius: 2, pointBackgroundColor: col, pointBorderColor: '#222', pointBorderWidth: 0.6, order: 0});
  });
  const cats = cellTypes.map((c, i) => i + 1);
  chartAt([25, 495, 497, 744], {yW: 25, xH: 84, t: 4, r: 6, b: 2}, {
    type: 'bar', data: {datasets: ds},
    options: {
      scales: {
        x: axis('x', {min: 0.4, max: 22.6, ticks: cats, size: 84, noLabels: true,
          grid: {drawOnChartArea: true, color: '#E8E8E8', tickColor: '#333', tickLength: 3}, border: {display: false},
          title: {text: 'Cell Type', font: {size: 9, weight: 'bold'}, color: '#000', padding: {top: 0, bottom: 1}}}),
        y: axis('y', {min: -0.039, max: 0.817, ticks: cTicks, minor: minorsOf(cTicks, -0.039, 0.817), size: 25, font: {size: 6.5}, color: '#4d4d4d', pad: 1,
          fmt: v => v.toFixed(1), grid: {drawOnChartArea: true, color: '#E8E8E8', tickColor: '#333', tickLength: 3}, border: {display: false},
          title: {text: 'Estimated Proportion', font: {size: 8.5, weight: 'bold'}, color: '#000', padding: {top: 1, bottom: 0}}})
      },
      plugins: {
        frame: {color: '#7f7f7f', width: 1},
        rotLabels: {labels: cellTypes, at: cats, dy: 37.5, font: `6.6px ${FONT}`, color: '#4d4d4d'},
        marks: {items: cSig.map((s, i) => ({x: i + 1, y: 0.79, text: s, font: `7.5px ${FONT}`, dy: s === 'ns' ? 0 : -1}))}
      }
    }
  });
  // legend
  label('risk', 207, 477, 'font-size:7.5px;color:#222;');
  const glyph = col => `background:linear-gradient(to bottom, ${col} 42%, #222 42%, #222 60%, ${col} 60%);border:0.8px solid #222;`;
  rect(226, 473, 10, 8, glyph(RED));
  label('High risk', 241, 477, 'font-size:7.5px;color:#222;');
  rect(273, 473, 10, 8, glyph(BLUE));
  label('Low risk', 289, 477, 'font-size:7.5px;color:#222;');
})();

// ---------------- D ----------------
label('D', 503, 445, 'font-size:21px;font-weight:bold;');
(function () {
  const facetX = [[554, 607], [617, 669], [679, 732], [742, 795], [805, 858], [868, 920], [936, 988], [998, 1051]];
  const facetYW = [23, 10, 10, 10, 10, 10, 16, 10];
  dGenes.forEach((g, k) => {
    const [x0, x1] = facetX[k];
    const [mn, mx] = dRange[k];
    const ticks = dTicks[k];
    const dec = ticks.some(v => !Number.isInteger(v)) ? 1 : 0;
    const ds = [];
    ds.push(...boxSet([dHigh[k]], [1], {fill: RED, stroke: '#333', lw: 0.6, px: 18, mColor: '#222', mlw: 1.2}));
    ds.push(...boxSet([dLow[k]], [2], {fill: BLUE, stroke: '#333', lw: 0.6, px: 18, mColor: '#222', mlw: 1.2}));
    ds.push({type: 'scatter', order: 0, pointRadius: 1.6, pointBackgroundColor: '#111', pointBorderWidth: 0,
      data: dOutHigh[k].map(v => ({x: 1, y: v})).concat(dOutLow[k].map(v => ({x: 2, y: v})))});
    chartAt([x0, 488, x1, 797], {yW: facetYW[k], xH: 12, t: 2, r: 1, b: 1}, {
      type: 'bar', data: {datasets: ds},
      options: {
        scales: {
          x: axis('x', {min: 0.4, max: 2.6, ticks: [1, 2], size: 12, font: {size: 6.5}, color: '#4d4d4d', pad: 1,
            fmt: v => riskLabels[v - 1], grid: {drawOnChartArea: true, color: '#EBEBEB', tickColor: '#444', tickLength: 2}, border: {display: false}}),
          y: axis('y', {min: mn, max: mx, ticks, minor: minorsOf(ticks, mn, mx), size: facetYW[k], font: {size: 6}, color: '#4d4d4d', pad: 1,
            fmt: v => v.toFixed(dec), grid: {drawOnChartArea: true, color: '#EBEBEB', tickColor: '#444', tickLength: 2}, border: {display: false},
            title: k === 0 ? {text: 'Gene Expression', font: {size: 8.5, weight: 'bold'}, color: '#000', padding: {top: 1, bottom: 0}} : null})
        },
        plugins: {frame: {color: '#7f7f7f', width: 0.8}}
      }
    });
    const st = rect(x0, 476, x1 - x0, 12.5, 'background:#D9D9D9;border:0.8px solid #7f7f7f;');
    label(g, (x1 - x0) / 2, 6, 'font-size:6.5px;color:#1a1a1a;', 'c');
    st.appendChild(fig.lastChild);
  });
  label('Risk', 802, 812, 'font-size:8.5px;font-weight:bold;', 'c');
})();

// ---------------- E / F ----------------
function parseRuns(str) {
  return str.trim().split(/\s+/).map(tok => {
    const m = tok.match(/^(\d+)(?:-(\d+))?([A-Z])$/);
    const s = +m[1];
    return {s, e: m[2] ? +m[2] : s + 1, t: m[3]};
  });
}

function oncoplot(o) {
  const n = o.genes.length;
  // mutation burden per sample
  const base = o.tmb.split('').map(d => +d * o.tmbUnit);
  const series = {};
  o.tmbOrder.forEach(t => { series[t] = t === 'M' ? base.slice() : base.map(() => 0); });
  o.tmbSpikes.forEach(([i, t, v]) => { series[t][i] = v; });
  chartAt(o.tmbPlot, {yW: o.tmbYW, t: 4, b: 1, r: 1}, {
    type: 'bar',
    data: {datasets: o.tmbOrder.map(t => ({
      data: series[t].map((v, i) => ({x: i + 0.5, y: v})).filter(p => p.y > 0),
      backgroundColor: mutColors[t], barPercentage: 1, categoryPercentage: 1, borderWidth: 0}))},
    options: {scales: {
      x: {type: 'linear', display: false, min: o.tmbXMin, max: o.N, offset: false, stacked: true},
      y: axis('y', {min: 0, max: o.tmbMax, ticks: [0, o.tmbMax], size: o.tmbYW, font: {size: 5.5}, color: '#333', pad: 1, stacked: true,
        border: {color: '#555', width: 0.8}, grid: {tickColor: '#555', tickLength: 3}})
    }}
  });

  // mutation matrix
  const runs = o.runs.map(parseRuns);
  const ds = [{data: o.genes.map((g, i) => ({y: i, x: [0, o.N]})), backgroundColor: '#CCCCCC', order: 20}];
  o.types.forEach(t => {
    const data = [];
    runs.forEach((rs, i) => rs.forEach(r => { if (r.t === t) data.push({y: i, x: [r.s, r.e]}); }));
    ds.push({data, backgroundColor: mutColors[t], order: t === 'K' ? 1 : t === 'M' ? 10 : 5});
  });
  ds.forEach(d => Object.assign(d, {type: 'bar', grouped: false, barPercentage: 0.88, categoryPercentage: 1, borderWidth: 0}));
  const rowTicks = o.genes.map((g, i) => i);
  chartAt(o.matPlot, {yW: o.geneW, y2W: 22}, {
    type: 'bar', data: {datasets: ds},
    options: {
      indexAxis: 'y',
      scales: {
        x: {type: 'linear', display: false, min: 0, max: o.N, offset: false},
        y: axis('y', {min: -0.5, max: n - 0.5, reverse: true, ticks: rowTicks, size: o.geneW, font: {size: 8, style: 'italic'}, color: '#111', pad: 2,
          fmt: v => o.genes[v], grid: {drawTicks: false}, border: {display: false}}),
        y2: axis('y', {min: -0.5, max: n - 0.5, reverse: true, ticks: rowTicks, size: 22, pos: 'right', font: {size: 8}, color: '#111', pad: 1,
          fmt: v => o.pct[v], grid: {drawTicks: false}, border: {display: false}})
      }
    }
  });

  // per-gene counts
  chartAt(o.barPlot, {xTH: 12, l: 4, r: 10, b: 1}, {
    type: 'bar',
    data: {datasets: o.types.map(t => ({
      data: o.counts[t].map((v, i) => ({y: i, x: v})).filter(p => p.x > 0),
      backgroundColor: mutColors[t], barPercentage: 0.85, categoryPercentage: 1, borderWidth: 0}))},
    options: {
      indexAxis: 'y',
      scales: {
        x: axis('x', {min: 0, max: o.barMax, ticks: [0, o.barMax], size: 12, pos: 'top', font: {size: 5.5}, color: '#333', pad: 1, stacked: true,
          border: {color: '#555', width: 0.8}, grid: {tickColor: '#555', tickLength: 3}}),
        y: {type: 'linear', display: false, min: -1.005, max: n - 0.5, reverse: true, stacked: true, offset: false}
      }
    }
  });

  // risk annotation bar
  chartAt(o.annPlot, {}, {
    type: 'bar',
    data: {datasets: [{data: [{y: 0.5, x: [0, o.N]}], backgroundColor: o.annColor, barThickness: o.annPlot[3] - o.annPlot[1], borderWidth: 0}]},
    options: {indexAxis: 'y', scales: {x: {type: 'linear', display: false, min: 0, max: o.N}, y: {type: 'linear', display: false, min: 0, max: 1}}}
  });
  label(o.annLabel, o.annPlot[2] + 3.5, (o.annPlot[1] + o.annPlot[3]) / 2, 'font-size:8px;color:#111;');
  label(o.title, o.titleX, 876, 'font-size:8.5px;font-weight:bold;', 'c');

  // legend
  const rowsY = [1154.3, 1163.3, 1172.3, 1181];
  o.legend.forEach((col, ci) => col.forEach((t, ri) => {
    const x = o.legX[ci];
    rect(x, rowsY[ri] - 2.2, 4.5, 4.5, `background:${mutColors[t]};`);
    label(mutNames[t], x + 6, rowsY[ri], 'font-size:7.2px;color:#111;' + (ci ? 'background:#fff;padding-left:1px;' : ''));
  }));
  label(o.annLabel, o.riskX, rowsY[0], 'font-size:7.5px;color:#111;');
  rect(o.riskX + 4, 1163.5, 4.5, 4.5, 'background:#FF3333;');
  label('High risk', o.riskX + 11, 1165.8, 'font-size:7.5px;color:#111;');
  rect(o.riskX + 4, 1172.1, 4.5, 4.5, 'background:#1A8AD0;');
  label('Low risk', o.riskX + 11, 1174.4, 'font-size:7.5px;color:#111;');
}

label('E', 17, 851.5, 'font-size:21px;font-weight:bold;');
label('F', 503, 851.5, 'font-size:21px;font-weight:bold;');

oncoplot({
  genes: eGenes, pct: ePct, runs: eRuns, counts: eCounts, N: 293,
  types: ['M', 'D', 'N', 'I', 'E', 'S', 'F', 'K'],
  tmb: eTmb, tmbUnit: 10, tmbSpikes: eTmbSpikes, tmbOrder: ['D', 'S', 'M', 'N'], tmbMax: 411, tmbXMin: -4, tmbYW: 16,
  tmbPlot: [70, 888, 370.7, 932], matPlot: [74, 936.5, 370.7, 1126.5], geneW: 37,
  barPlot: [393.3, 931.7, 475, 1126.5], barMax: 267,
  annPlot: [74, 1129.3, 370.7, 1145], annColor: '#1A8AD0', annLabel: 'Low_risk',
  title: 'Altered in 290 (98.98%) of 293 samples.', titleX: 260,
  legend: [['M', 'D', 'N', 'I'], ['E', 'S', 'F', 'K']], legX: [44.5, 110.5], riskX: 190
});

oncoplot({
  genes: fGenes, pct: fPct, runs: fRuns, counts: fCounts, N: 277,
  types: ['M', 'N', 'S', 'D', 'E', 'I', 'T', 'K'],
  tmb: fTmb, tmbUnit: 120, tmbSpikes: fTmbSpikes, tmbOrder: ['M', 'N'], tmbMax: 11408, tmbXMin: -3.5, tmbYW: 22,
  tmbPlot: [604, 888, 902.3, 932], matPlot: [607.7, 936.5, 902.3, 1126.5], geneW: 48,
  barPlot: [924.3, 931.7, 1005, 1126.5], barMax: 107,
  annPlot: [607.7, 1129.3, 902.3, 1145], annColor: '#FF3333', annLabel: 'High_risk',
  title: 'Altered in 245 (88.45%) of 277 samples.', titleX: 791.7,
  legend: [['M', 'N', 'S', 'D'], ['E', 'I', 'T', 'K']], legX: [578.5, 650.5], riskX: 734.3
});
</script>
</body>
</html>
